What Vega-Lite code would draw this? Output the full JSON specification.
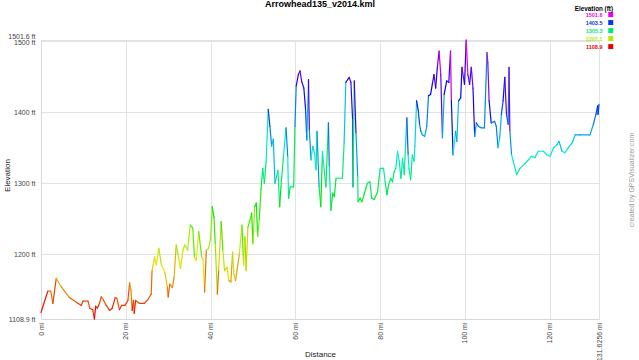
{
"$schema": "https://vega.github.io/schema/vega-lite/v6.json",
"width": 558, "height": 279,
"autosize": {"type": "none"},
"padding": {"left": 41, "top": 40, "right": 40, "bottom": 41},
"background": "white",
"title": {"text": "Arrowhead135_v2014.kml", "font": "Liberation Sans", "fontSize": 9, "fontWeight": "bold", "color": "#000", "anchor": "middle", "frame": "group", "offset": -3.5},
"config": {"view": {"stroke": null}},
"data": {"values": [
{"d":0,"e":1118},{"d":1.6,"e":1148},{"d":2.3,"e":1148},{"d":2.8,"e":1131},{"d":3.6,"e":1166},{"d":4.8,"e":1154},{"d":6.7,"e":1139},{"d":8.7,"e":1131},{"d":9.5,"e":1128},{"d":9.9,"e":1134},{"d":11.1,"e":1134},{"d":11.5,"e":1124},{"d":12.2,"e":1122},{"d":12.6,"e":1108.9},{"d":12.9,"e":1127},{"d":13.3,"e":1124},{"d":13.8,"e":1131},{"d":14.2,"e":1140},{"d":14.7,"e":1136},{"d":15.4,"e":1128},{"d":16.2,"e":1121},{"d":16.8,"e":1124},{"d":17.5,"e":1139},{"d":17.9,"e":1138},{"d":18.5,"e":1122},{"d":19.0,"e":1128},{"d":19.8,"e":1128},{"d":20.5,"e":1135},{"d":20.9,"e":1160},{"d":21.2,"e":1150},{"d":21.5,"e":1121},{"d":21.8,"e":1135},{"d":22.0,"e":1117},{"d":22.3,"e":1135},{"d":23.2,"e":1131},{"d":24.4,"e":1131},{"d":25.3,"e":1137},{"d":26.0,"e":1144},{"d":26.2,"e":1177},{"d":26.8,"e":1196},{"d":27.2,"e":1185},{"d":27.8,"e":1208},{"d":28.4,"e":1185},{"d":29.2,"e":1175},{"d":29.8,"e":1154},{"d":30.0,"e":1140},{"d":30.4,"e":1158},{"d":31.0,"e":1153},{"d":31.4,"e":1168},{"d":31.9,"e":1213},{"d":32.3,"e":1201},{"d":32.9,"e":1180},{"d":33.5,"e":1206},{"d":33.9,"e":1213},{"d":34.6,"e":1206},{"d":35.2,"e":1241},{"d":35.8,"e":1237},{"d":36.2,"e":1196},{"d":36.6,"e":1191},{"d":37.2,"e":1232},{"d":37.9,"e":1196},{"d":38.2,"e":1194},{"d":38.6,"e":1147},{"d":39.0,"e":1206},{"d":39.5,"e":1208},{"d":40.0,"e":1222},{"d":40.4,"e":1267},{"d":40.8,"e":1252},{"d":41.1,"e":1215},{"d":41.6,"e":1144},{"d":41.9,"e":1177},{"d":42.5,"e":1246},{"d":42.9,"e":1206},{"d":43.3,"e":1177},{"d":43.9,"e":1182},{"d":44.3,"e":1163},{"d":44.8,"e":1161},{"d":45.2,"e":1203},{"d":45.5,"e":1172},{"d":45.9,"e":1163},{"d":46.8,"e":1201},{"d":47.4,"e":1241},{"d":47.8,"e":1185},{"d":48.1,"e":1225},{"d":48.4,"e":1177},{"d":48.8,"e":1238},{"d":49.2,"e":1246},{"d":49.7,"e":1258},{"d":50.0,"e":1215},{"d":50.4,"e":1267},{"d":50.8,"e":1272},{"d":51.1,"e":1225},{"d":51.5,"e":1250},{"d":51.9,"e":1291},{"d":52.3,"e":1321},{"d":52.7,"e":1300},{"d":53.1,"e":1330},{"d":53.6,"e":1404},{"d":54.0,"e":1380},{"d":54.4,"e":1352},{"d":54.8,"e":1362},{"d":55.2,"e":1300},{"d":55.6,"e":1310},{"d":55.9,"e":1318},{"d":56.3,"e":1267},{"d":56.6,"e":1295},{"d":57.2,"e":1338},{"d":57.8,"e":1378},{"d":58.2,"e":1338},{"d":58.4,"e":1279},{"d":58.8,"e":1295},{"d":59.6,"e":1295},{"d":59.9,"e":1380},{"d":60.2,"e":1437},{"d":60.7,"e":1453},{"d":61.1,"e":1458},{"d":61.5,"e":1443},{"d":62.0,"e":1434},{"d":62.4,"e":1405},{"d":62.7,"e":1361},{"d":63.1,"e":1446},{"d":63.3,"e":1375},{"d":63.7,"e":1333},{"d":64.1,"e":1352},{"d":64.5,"e":1343},{"d":64.9,"e":1319},{"d":65.1,"e":1373},{"d":65.6,"e":1295},{"d":66.0,"e":1267},{"d":66.4,"e":1345},{"d":66.8,"e":1319},{"d":67.2,"e":1295},{"d":67.8,"e":1385},{"d":68.0,"e":1324},{"d":68.4,"e":1262},{"d":68.8,"e":1286},{"d":69.2,"e":1281},{"d":69.6,"e":1307},{"d":70.3,"e":1307},{"d":71.1,"e":1307},{"d":71.5,"e":1357},{"d":71.9,"e":1442},{"d":72.7,"e":1449},{"d":73.1,"e":1442},{"d":73.5,"e":1390},{"d":73.6,"e":1295},{"d":73.9,"e":1444},{"d":74.3,"e":1371},{"d":74.7,"e":1310},{"d":74.8,"e":1274},{"d":75.3,"e":1279},{"d":75.7,"e":1274},{"d":76.2,"e":1284},{"d":77.0,"e":1300},{"d":77.6,"e":1302},{"d":78.0,"e":1279},{"d":78.6,"e":1277},{"d":79.4,"e":1288},{"d":79.8,"e":1310},{"d":80.0,"e":1321},{"d":80.8,"e":1321},{"d":81.2,"e":1302},{"d":81.6,"e":1284},{"d":82.0,"e":1298},{"d":82.5,"e":1307},{"d":82.9,"e":1302},{"d":83.3,"e":1316},{"d":83.7,"e":1321},{"d":84.1,"e":1345},{"d":84.5,"e":1331},{"d":84.9,"e":1307},{"d":85.3,"e":1335},{"d":85.7,"e":1312},{"d":86.0,"e":1354},{"d":86.3,"e":1392},{"d":86.6,"e":1340},{"d":86.8,"e":1321},{"d":87.2,"e":1305},{"d":87.6,"e":1340},{"d":88.0,"e":1331},{"d":88.2,"e":1352},{"d":88.6,"e":1416},{"d":89.0,"e":1402},{"d":89.3,"e":1383},{"d":89.6,"e":1373},{"d":90.0,"e":1368},{"d":90.5,"e":1366},{"d":91.0,"e":1380},{"d":91.4,"e":1423},{"d":91.9,"e":1425},{"d":92.3,"e":1439},{"d":92.7,"e":1453},{"d":93.1,"e":1434},{"d":93.5,"e":1463},{"d":93.9,"e":1486},{"d":94.3,"e":1453},{"d":94.7,"e":1364},{"d":95.1,"e":1425},{"d":95.7,"e":1444},{"d":96.2,"e":1442},{"d":96.6,"e":1486},{"d":96.8,"e":1416},{"d":97.2,"e":1340},{"d":97.8,"e":1373},{"d":98.1,"e":1359},{"d":98.5,"e":1416},{"d":99.0,"e":1420},{"d":99.3,"e":1463},{"d":99.9,"e":1439},{"d":100.3,"e":1501.6},{"d":100.7,"e":1453},{"d":101.1,"e":1439},{"d":101.5,"e":1463},{"d":101.9,"e":1434},{"d":102.3,"e":1366},{"d":102.7,"e":1385},{"d":103.2,"e":1380},{"d":103.8,"e":1378},{"d":104.6,"e":1378},{"d":105.2,"e":1484},{"d":105.4,"e":1470},{"d":105.7,"e":1416},{"d":106.2,"e":1385},{"d":107.0,"e":1387},{"d":107.4,"e":1380},{"d":107.8,"e":1350},{"d":108.2,"e":1364},{"d":108.6,"e":1397},{"d":109.0,"e":1416},{"d":109.4,"e":1449},{"d":109.8,"e":1397},{"d":110.2,"e":1383},{"d":110.4,"e":1463},{"d":110.6,"e":1374},{"d":111.0,"e":1340},{"d":111.4,"e":1331},{"d":112.2,"e":1312},{"d":113.0,"e":1321},{"d":114.2,"e":1328},{"d":115.0,"e":1333},{"d":115.7,"e":1338},{"d":116.5,"e":1336},{"d":117.3,"e":1345},{"d":118.5,"e":1345},{"d":119.3,"e":1340},{"d":120.1,"e":1338},{"d":120.9,"e":1350},{"d":121.7,"e":1354},{"d":122.2,"e":1359},{"d":122.9,"e":1345},{"d":123.6,"e":1343},{"d":124.4,"e":1350},{"d":125.3,"e":1357},{"d":126.0,"e":1368},{"d":127.2,"e":1368},{"d":129.5,"e":1368},{"d":130.3,"e":1383},{"d":130.9,"e":1397},{"d":131.3,"e":1409},{"d":131.4,"e":1397},{"d":131.6256,"e":1411}
]},
"transform": [
{"window": [{"op": "lead", "field": "d", "as": "d2"}, {"op": "lead", "field": "e", "as": "e2"}], "sort": [{"field": "d", "order": "ascending"}]},
{"filter": "datum.d2 != null"}
],
"layer": [
{"mark": {"type": "rule", "strokeWidth": 1.2, "strokeCap": "round"},
 "encoding": {
  "x": {"field": "d", "type": "quantitative", "scale": {"domain": [0, 131.6256], "nice": false, "zero": false},
   "axis": {"values": [0, 20, 40, 60, 80, 100, 120, 131.6256], "labelExpr": "datum.value + ' mi'", "labelAngle": 270, "labelFont": "Liberation Sans", "labelFontSize": 7, "labelColor": "#444", "labelPadding": 3, "labelOverlap": false, "ticks": false, "grid": true, "gridColor": "#e2e2e2", "domainColor": "#d8d8d8", "title": "Distance", "titleFont": "Liberation Sans", "titleFontSize": 8, "titleFontWeight": "normal", "titleColor": "#222", "titleY": 35, "titleBaseline": "middle"}},
  "x2": {"field": "d2"},
  "y": {"field": "e", "type": "quantitative", "scale": {"domain": [1108.9, 1501.6], "nice": false, "zero": false},
   "axis": {"values": [1108.9, 1200, 1300, 1400, 1500, 1501.6], "labelExpr": "datum.value + ' ft'", "labelFont": "Liberation Sans", "labelFontSize": 7, "labelColor": "#444", "labelPadding": 6, "labelOverlap": false, "ticks": false, "grid": true, "gridColor": "#e2e2e2", "domainColor": "#d8d8d8", "title": "Elevation", "titleFont": "Liberation Sans", "titleFontSize": 8, "titleFontWeight": "normal", "titleColor": "#222", "titleX": -34, "titleY": 135, "titleBaseline": "middle",
    "labelOffset": {"condition": [{"test": "datum.value > 1501", "value": -4}, {"test": "datum.value == 1500", "value": 1.5}], "value": 0}}},
  "y2": {"field": "e2"},
  "color": {"field": "e", "type": "quantitative", "scale": {"domain": [1108.9, 1501.6], "range": ["hsl(0,100%,46%)", "hsl(300,100%,46%)"], "interpolate": "hsl-long"},
   "legend": {"type": "symbol", "values": [1501.6, 1403.5, 1305.3, 1207.1, 1108.9], "labelExpr": "'\u00a0\u00a0\u00a0\u00a0\u00a0\u00a0\u00a0\u00a0\u00a0\u00a0' + format(datum.value, '.1f')", "title": "Elevation (ft)", "orient": "none", "legendX": 534, "legendY": -34.5, "padding": 0, "titleAnchor": "end", "titlePadding": 0, "titleFont": "Liberation Sans", "titleFontSize": 6.3, "titleFontWeight": "bold", "titleColor": "#000", "labelFont": "Liberation Sans", "labelFontSize": 5.5, "labelFontWeight": "bold", "labelAlign": "right", "labelOffset": -11, "symbolType": "square", "symbolSize": 25, "symbolStrokeWidth": 0, "rowPadding": 1,
    "encode": {"labels": {"update": {"fill": {"scale": "color", "field": "value"}}}, "symbols": {"update": {"fill": {"scale": "color", "field": "value"}, "stroke": {"value": "transparent"}}}}}}
 }},
{"mark": {"type": "point", "opacity": 0},
 "encoding": {
  "x": {"field": "d", "type": "quantitative"},
  "y": {"field": "e", "type": "quantitative", "scale": {"domain": [1108.9, 1501.6], "nice": false, "zero": false},
   "axis": {"orient": "right", "labels": false, "ticks": false, "domain": false, "grid": false, "title": "created by GPSVisualizer.com", "titleAngle": 270, "titlePadding": 35, "titleFont": "Liberation Sans", "titleFontSize": 7, "titleFontWeight": "normal", "titleColor": "#999"}}
 }}
],
"resolve": {"scale": {"y": "independent"}, "axis": {"y": "independent"}}
}
